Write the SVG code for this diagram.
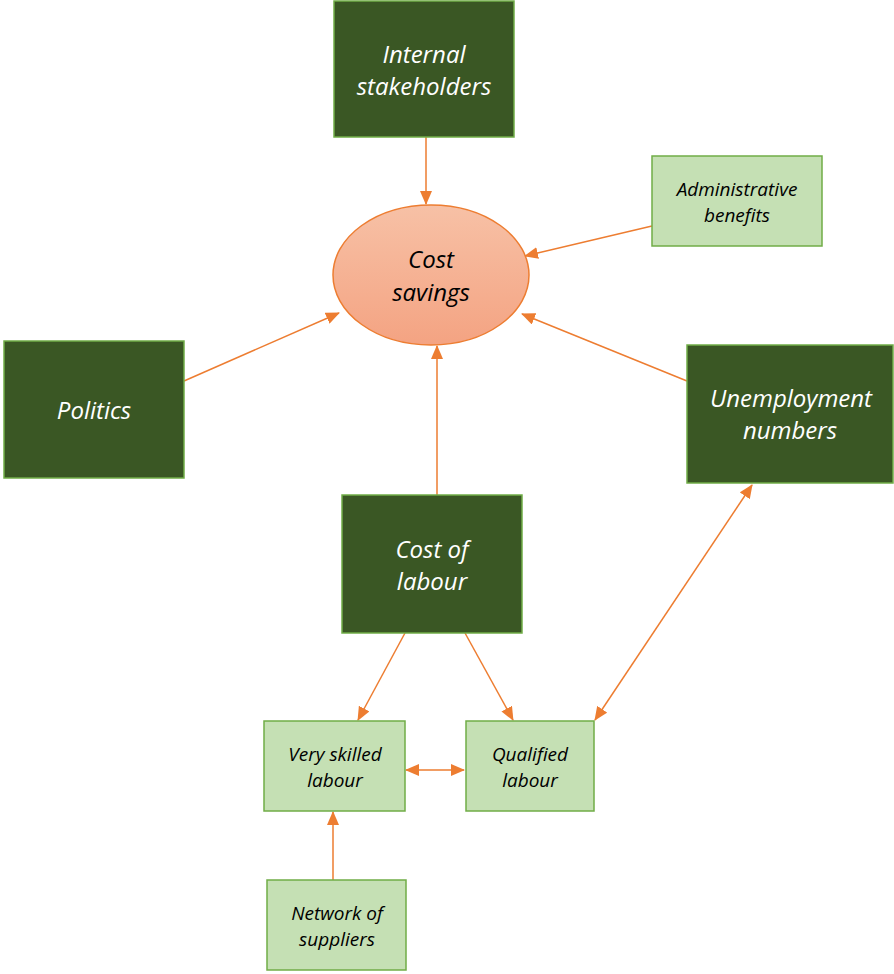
<svg xmlns="http://www.w3.org/2000/svg" width="894" height="974" viewBox="0 0 894 974">
  <style>
    .dark { fill: #3A5724; stroke: #70AD47; stroke-width: 1.5; }
    .light { fill: #C5E0B4; stroke: #70AD47; stroke-width: 1.5; }
    .lbl-dark { font-family: "Open Sans", "Liberation Sans", sans-serif; font-style: italic; font-size: 24px; fill: #FFFFFF; text-anchor: middle; }
    .lbl-light { font-family: "Open Sans", "Liberation Sans", sans-serif; font-style: italic; font-size: 19px; fill: #000000; text-anchor: middle; }
    .lbl-main { font-family: "Open Sans", "Liberation Sans", sans-serif; font-style: italic; font-size: 24px; fill: #000000; text-anchor: middle; }
    .conn { stroke: #ED7D31; stroke-width: 1.5; fill: none; }
  </style>
  <defs>
    <marker id="arrow" viewBox="0 0 14 12" refX="13" refY="6" markerWidth="14" markerHeight="12" markerUnits="userSpaceOnUse" orient="auto-start-reverse">
      <path d="M0,0 L14,6 L0,12 Z" fill="#ED7D31"/>
    </marker>
    <linearGradient id="ovalFill" x1="0" y1="0" x2="0" y2="1">
      <stop offset="0" stop-color="#F7C1A6"/>
      <stop offset="1" stop-color="#F4A382"/>
    </linearGradient>
  </defs>

  <g id="connectors">
    <line class="conn" x1="426" y1="137" x2="426" y2="204" marker-end="url(#arrow)"/>
    <line class="conn" x1="652" y1="226" x2="525" y2="256" marker-end="url(#arrow)"/>
    <line class="conn" x1="184" y1="381" x2="339" y2="313" marker-end="url(#arrow)"/>
    <line class="conn" x1="687" y1="381" x2="522" y2="314" marker-end="url(#arrow)"/>
    <line class="conn" x1="437" y1="495" x2="437" y2="346" marker-end="url(#arrow)"/>
    <line class="conn" x1="405" y1="633" x2="358" y2="720" marker-end="url(#arrow)"/>
    <line class="conn" x1="465" y1="633" x2="513" y2="720" marker-end="url(#arrow)"/>
    <line class="conn" x1="752" y1="485" x2="595" y2="720" marker-start="url(#arrow)" marker-end="url(#arrow)"/>
    <line class="conn" x1="406" y1="770" x2="464" y2="770" marker-start="url(#arrow)" marker-end="url(#arrow)"/>
    <line class="conn" x1="333" y1="880" x2="333" y2="812" marker-end="url(#arrow)"/>
  </g>

  <g id="cost-savings">
    <ellipse cx="431" cy="275" rx="98" ry="70" fill="url(#ovalFill)" stroke="#ED7D31" stroke-width="1.5"/>
    <text class="lbl-main" x="431" y="268">Cost</text>
    <text class="lbl-main" x="431" y="301">savings</text>
  </g>

  <g id="internal-stakeholders">
    <rect class="dark" x="334" y="1" width="180" height="136"/>
    <text class="lbl-dark" x="424" y="63">Internal</text>
    <text class="lbl-dark" x="424" y="95">stakeholders</text>
  </g>

  <g id="administrative-benefits">
    <rect class="light" x="652" y="156" width="170" height="90"/>
    <text class="lbl-light" x="737" y="196">Administrative</text>
    <text class="lbl-light" x="737" y="222">benefits</text>
  </g>

  <g id="politics">
    <rect class="dark" x="4" y="341" width="180" height="137"/>
    <text class="lbl-dark" x="94" y="419">Politics</text>
  </g>

  <g id="unemployment-numbers">
    <rect class="dark" x="687" y="345" width="206" height="138"/>
    <text class="lbl-dark" x="791" y="407">Unemployment</text>
    <text class="lbl-dark" x="790" y="439">numbers</text>
  </g>

  <g id="cost-of-labour">
    <rect class="dark" x="342" y="495" width="180" height="138"/>
    <text class="lbl-dark" x="432" y="558">Cost of</text>
    <text class="lbl-dark" x="432" y="590">labour</text>
  </g>

  <g id="very-skilled-labour">
    <rect class="light" x="264" y="721" width="141" height="90"/>
    <text class="lbl-light" x="335" y="761">Very skilled</text>
    <text class="lbl-light" x="335" y="787">labour</text>
  </g>

  <g id="qualified-labour">
    <rect class="light" x="466" y="721" width="128" height="90"/>
    <text class="lbl-light" x="530" y="761">Qualified</text>
    <text class="lbl-light" x="530" y="787">labour</text>
  </g>

  <g id="network-of-suppliers">
    <rect class="light" x="267" y="880" width="139" height="90"/>
    <text class="lbl-light" x="337" y="920">Network of</text>
    <text class="lbl-light" x="337" y="946">suppliers</text>
  </g>
</svg>
